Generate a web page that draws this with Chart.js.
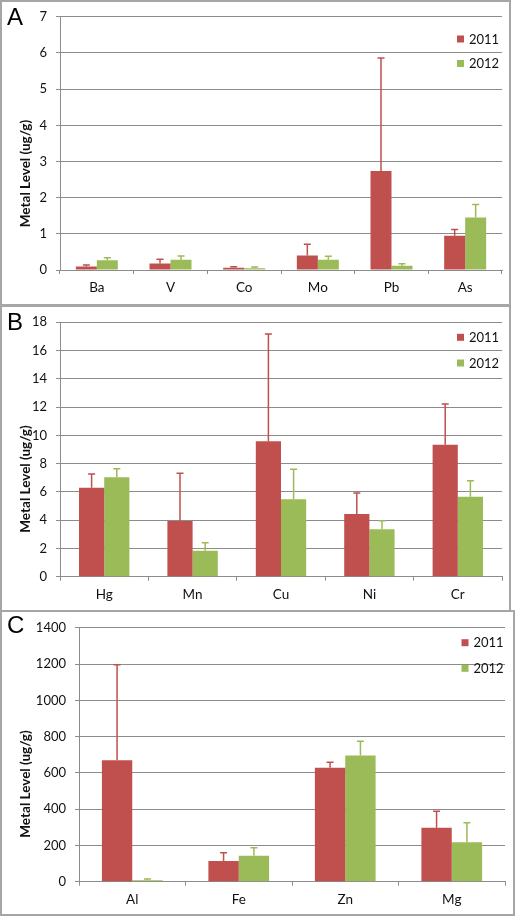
<!DOCTYPE html>
<html><head><meta charset="utf-8">
<script src="https://cdn.jsdelivr.net/npm/chart.js@4/dist/chart.umd.min.js"></script>
<style>
html,body{margin:0;padding:0;background:#fff;}
body{width:515px;height:918px;position:relative;overflow:hidden;}
canvas{position:absolute;left:0;}
.frame{position:absolute;border:2px solid #a6a6a6;box-sizing:border-box;pointer-events:none;}
</style></head><body>
<canvas id="cA" style="top:0px" width="510" height="305"></canvas>
<canvas id="cB" style="top:305px" width="510" height="306"></canvas>
<canvas id="cC" style="top:611px" width="515" height="307"></canvas>
<div class="frame" style="left:0;top:0;width:511px;height:307px"></div>
<div class="frame" style="left:0;top:304px;width:511px;height:308px"></div>
<div class="frame" style="left:0;top:610px;width:515px;height:306px"></div>
<script>
// ---------- data ----------
const seriesLabels = ['2011', '2012'];
const yTitle = 'Metal Level (ug/g)';

const catsA = ['Ba', 'V', 'Co', 'Mo', 'Pb', 'As'];
const a2011 = [0.10, 0.18, 0.06, 0.40, 2.74, 0.95];
const a2011sd = [0.04, 0.12, 0.03, 0.31, 3.12, 0.17];
const a2012 = [0.27, 0.28, 0.05, 0.28, 0.12, 1.45];
const a2012sd = [0.07, 0.11, 0.03, 0.10, 0.05, 0.36];
const ticksA = [0, 1, 2, 3, 4, 5, 6, 7];

const catsB = ['Hg', 'Mn', 'Cu', 'Ni', 'Cr'];
const b2011 = [6.30, 3.94, 9.58, 4.44, 9.34];
const b2011sd = [0.97, 3.38, 7.60, 1.48, 2.88];
const b2012 = [7.03, 1.84, 5.48, 3.35, 5.66];
const b2012sd = [0.61, 0.57, 2.12, 0.61, 1.13];
const ticksB = [0, 2, 4, 6, 8, 10, 12, 14, 16, 18];

const catsC = ['Al', 'Fe', 'Zn', 'Mg'];
const c2011 = [670, 114, 628, 297];
const c2011sd = [526, 46, 31, 92];
const c2012 = [8, 143, 696, 218];
const c2012sd = [7, 44, 78, 107];
const ticksC = [0, 200, 400, 600, 800, 1000, 1200, 1400];

// ---------- styles ----------
const RED = '#c0504d', GREEN = '#9bbb59', GRID = '#8c8c8c', TXT = '#111';
const FONT = 'Lato';

const extras = {
  id: 'extras',
  afterDatasetsDraw(chart, args, o) {
    const ctx = chart.ctx, ys = chart.scales.y;
    chart.data.datasets.forEach((ds, i) => {
      const meta = chart.getDatasetMeta(i);
      meta.data.forEach((bar, j) => {
        const yT = ys.getPixelForValue(ds.data[j] + ds.sd[j]);
        ctx.save();
        ctx.strokeStyle = ds.backgroundColor;
        ctx.lineWidth = 1.5;
        ctx.beginPath();
        ctx.moveTo(bar.x, bar.y); ctx.lineTo(bar.x, yT);
        ctx.moveTo(bar.x - 3.5, yT); ctx.lineTo(bar.x + 3.5, yT);
        ctx.stroke();
        ctx.restore();
      });
    });
  },
  afterDraw(chart, args, o) {
    const ctx = chart.ctx;
    ctx.save();
    ctx.fillStyle = '#000';
    ctx.font = '24px "Liberation Sans"';
    ctx.textAlign = 'left'; ctx.textBaseline = 'alphabetic';
    ctx.fillText(o.letter, 7, o.letterY);
    ctx.save();
    ctx.translate(26, o.titleY);
    ctx.rotate(-Math.PI / 2);
    ctx.font = 'bold 13.5px ' + FONT;
    ctx.textAlign = 'center'; ctx.textBaseline = 'middle';
    ctx.fillStyle = TXT;
    ctx.fillText(yTitle, 0, 0);
    ctx.restore();
    chart.data.datasets.forEach((ds, i) => {
      const cy = o.legY[i];
      ctx.fillStyle = ds.backgroundColor;
      ctx.fillRect(o.legX, cy - 3.5, 7, 7);
      ctx.fillStyle = TXT;
      ctx.font = '13px ' + FONT;
      ctx.textAlign = 'left'; ctx.textBaseline = 'middle';
      ctx.fillText(ds.label, o.legX + 12, cy + 0.5);
    });
    ctx.restore();
  }
};

function makeChart(id, cats, d1, s1, d2, s2, ticks, lay) {
  new Chart(document.getElementById(id), {
    type: 'bar',
    data: {
      labels: cats,
      datasets: [
        { label: seriesLabels[0], data: d1, sd: s1, backgroundColor: RED },
        { label: seriesLabels[1], data: d2, sd: s2, backgroundColor: GREEN }
      ]
    },
    options: {
      responsive: false,
      animation: false,
      devicePixelRatio: 1,
      layout: { padding: { top: lay.top, right: lay.right, left: 0, bottom: 0 } },
      datasets: { bar: { categoryPercentage: 0.57, barPercentage: 1.0, borderWidth: 0 } },
      plugins: {
        legend: { display: false },
        tooltip: { enabled: false },
        extras: lay.extras
      },
      scales: {
        x: {
          afterFit: s => { s.height = lay.xh; },
          grid: { drawOnChartArea: false, drawTicks: true, tickLength: 4, color: GRID, offset: true },
          border: { display: true, color: GRID, width: 1 },
          ticks: { color: TXT, font: { family: FONT, size: 13.5 }, padding: 6, maxRotation: 0 }
        },
        y: {
          min: ticks[0], max: ticks[ticks.length - 1],
          afterFit: s => { s.width = lay.yw; },
          afterBuildTicks: s => { s.ticks = ticks.map(v => ({ value: v })); },
          grid: { color: GRID, drawTicks: true, tickLength: 4 },
          border: { display: true, color: GRID, width: 1 },
          ticks: { color: TXT, font: { family: FONT, size: 13 }, padding: 9, callback: v => String(v) }
        }
      }
    },
    plugins: [extras]
  });
}

makeChart('cA', catsA, a2011, a2011sd, a2012, a2012sd, ticksA,
  { top: 16, right: 8, xh: 35, yw: 60,
    extras: { letter: 'A', letterY: 25, titleY: 173.5, legX: 457, legY: [39, 63.5] } });
makeChart('cB', catsB, b2011, b2011sd, b2012, b2012sd, ticksB,
  { top: 17.3, right: 8, xh: 34.3, yw: 60,
    extras: { letter: 'B', letterY: 25, titleY: 174, legX: 457, legY: [32.3, 58] } });
makeChart('cC', catsC, c2011, c2011sd, c2012, c2012sd, ticksC,
  { top: 16.3, right: 10, xh: 36.3, yw: 79,
    extras: { letter: 'C', letterY: 22, titleY: 173, legX: 461.5, legY: [31.7, 57.3] } });
</script>
</body></html>
